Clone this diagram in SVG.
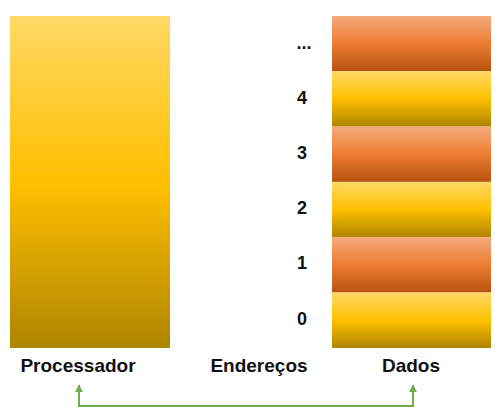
<svg xmlns="http://www.w3.org/2000/svg" width="502" height="418" viewBox="0 0 502 418">
<defs>
<linearGradient id="gY" x1="0" y1="0" x2="0" y2="1">
<stop offset="0" stop-color="#FFD966"/>
<stop offset="0.5" stop-color="#FFC000"/>
<stop offset="1" stop-color="#AE8500"/>
</linearGradient>
<linearGradient id="gO" x1="0" y1="0" x2="0" y2="1">
<stop offset="0" stop-color="#F4AA7C"/>
<stop offset="0.5" stop-color="#ED7D31"/>
<stop offset="1" stop-color="#B7520F"/>
</linearGradient>
<marker id="ah" viewBox="0 0 10 10" refX="9" refY="5" markerWidth="4" markerHeight="4" orient="auto">
<path d="M0,0 L10,5 L0,10 z" fill="#70AD47"/>
</marker>
</defs>
<style>
.lbl{font-family:"Liberation Sans",Arial,sans-serif;font-weight:bold;font-size:19px;fill:#111;text-anchor:middle}
.num{font-family:"Liberation Sans",Arial,sans-serif;font-weight:bold;font-size:18px;fill:#111;text-anchor:middle}
.y{fill:url(#gY)}
.o{fill:url(#gO)}
</style>
<rect width="502" height="418" fill="#fff"/>
<g id="processador">
<rect class="y" x="10" y="16" width="160" height="332"/>
<text class="lbl" x="78" y="372">Processador</text>
</g>
<g id="enderecos">
<text class="lbl" x="259" y="372">Endereços</text>
<text class="num" x="304" y="49">...</text>
<text class="num" x="302" y="103.5">4</text>
<text class="num" x="302" y="159">3</text>
<text class="num" x="302" y="214">2</text>
<text class="num" x="302" y="268.5">1</text>
<text class="num" x="302" y="325">0</text>
</g>
<g id="dados">
<rect class="o" x="332" y="16" width="159" height="55.3"/>
<rect class="y" x="332" y="71.3" width="159" height="55.3"/>
<rect class="o" x="332" y="126.6" width="159" height="55.3"/>
<rect class="y" x="332" y="181.9" width="159" height="55.3"/>
<rect class="o" x="332" y="237.2" width="159" height="55.3"/>
<rect class="y" x="332" y="292.5" width="159" height="55.5"/>
<text class="lbl" x="411" y="372">Dados</text>
</g>
<g id="connectors">
<path d="M413,406 L79,406 L79,385" fill="none" stroke="#70AD47" stroke-width="2" marker-end="url(#ah)"/>
<path d="M79,406 L413,406 L413,385" fill="none" stroke="#70AD47" stroke-width="2" marker-end="url(#ah)"/>
</g>
</svg>
